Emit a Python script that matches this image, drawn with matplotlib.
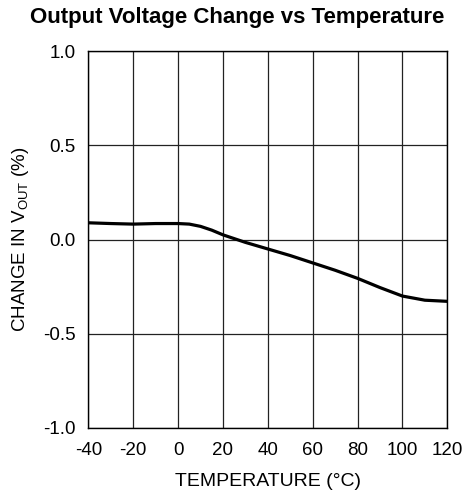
import numpy as np
import matplotlib
matplotlib.use('Agg')
import matplotlib.pyplot as plt

plt.rcParams['font.family'] = ['Liberation Sans', 'DejaVu Sans']
plt.rcParams['mathtext.fontset'] = 'custom'
plt.rcParams['mathtext.rm'] = 'Liberation Sans'
plt.rcParams['axes.unicode_minus'] = False

# curve
temp = [-40, -30, -20, -10, 0, 5, 10, 15, 20, 25, 30, 40, 50, 60, 70, 80, 90, 100, 110, 120]
change = [0.089, 0.085, 0.082, 0.085, 0.085, 0.082, 0.070, 0.050, 0.025, 0.005, -0.015, -0.050, -0.085,
          -0.124, -0.163, -0.206, -0.255, -0.300, -0.322, -0.328]

x_ticks = [-40, -20, 0, 20, 40, 60, 80, 100, 120]
y_ticks = [-1.0, -0.5, 0.0, 0.5, 1.0]

fig = plt.figure(figsize=(4.65, 4.97), dpi=100)
ax = fig.add_axes([0.190, 0.139, 0.772, 0.758])

ax.plot(temp, change, color='black', linewidth=2.3, solid_capstyle='butt')

ax.set_xlim(-40, 120)
ax.set_ylim(-1.0, 1.0)
ax.set_xticks(x_ticks)
ax.set_yticks(y_ticks)
ax.set_yticklabels(['%.1f' % v for v in y_ticks])
ax.grid(True, color='#222222', linewidth=0.9)
ax.tick_params(length=0, labelsize=13.5, colors='black')
ax.tick_params(axis='y', pad=9)
ax.tick_params(axis='x', pad=10)
for s in ax.spines.values():
    s.set_linewidth(1.0)
    s.set_color('black')

ax.set_xlabel('TEMPERATURE (°C)', fontsize=14, labelpad=10)
ax.set_ylabel(r'CHANGE IN V$_{\mathregular{OUT}}$ (%)', fontsize=13.5, labelpad=9)

fig.suptitle('Output Voltage Change vs Temperature', fontsize=16, fontweight='bold',
             x=0.51, y=0.985)

fig.savefig('out.png', dpi=100)
